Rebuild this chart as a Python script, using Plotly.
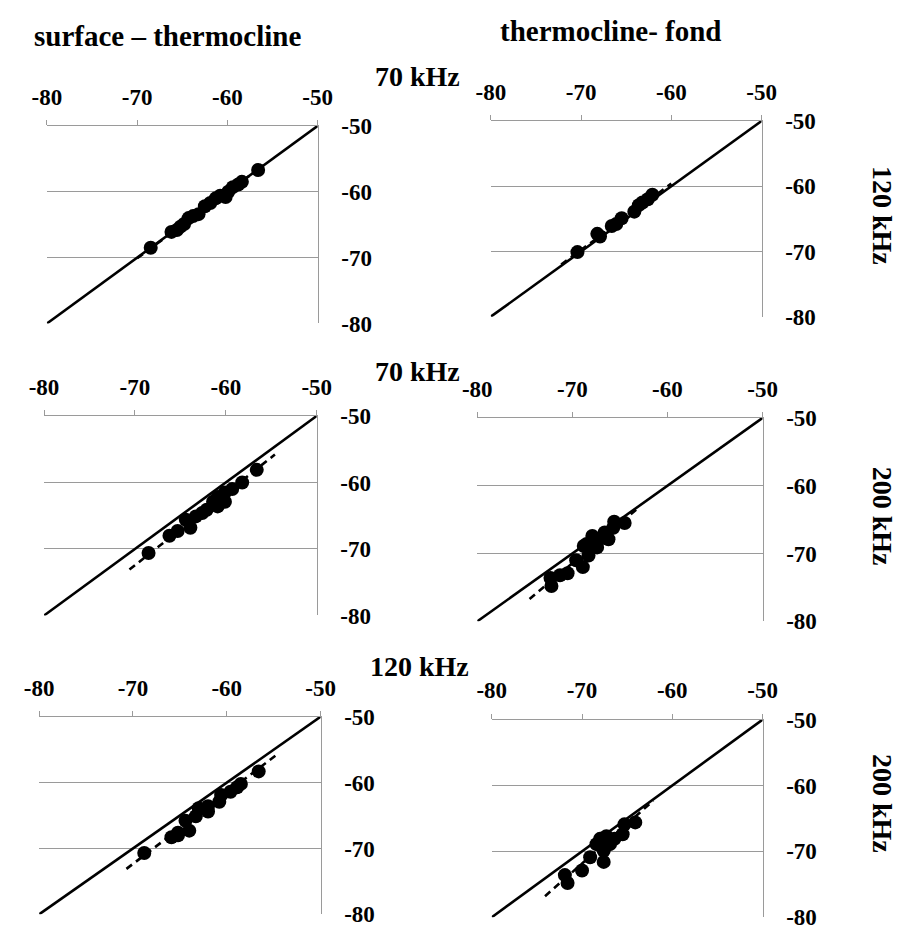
import plotly.graph_objects as go

# ---------------- data ----------------
ticks = [-80, -70, -60, -50]
one_to_one = [-80, -50]

# panel 1: surface-thermocline, 70 kHz vs 120 kHz
p1_x = [-68.5, -66.2, -65.6, -65.2, -64.8, -64.3, -63.8, -63.2, -62.5, -61.9, -61.3, -60.8, -60.2, -59.9, -59.4, -58.8, -58.4, -56.6]
p1_y = [-68.5, -66.1, -65.8, -65.3, -64.9, -64.0, -63.7, -63.4, -62.2, -61.7, -61.0, -60.6, -60.8, -60.0, -59.3, -58.9, -58.5, -56.7]
p1_fit_x = [-70.0, -56.0]
p1_fit_y = [-70.1, -56.0]

# panel 2: thermocline-fond, 70 kHz vs 120 kHz
p2_x = [-70.4, -68.2, -67.9, -66.6, -66.1, -65.5, -64.1, -63.6, -63.2, -62.6, -62.1]
p2_y = [-70.1, -67.3, -67.7, -66.1, -65.8, -64.9, -63.9, -62.9, -62.5, -62.0, -61.3]
p2_fit_x = [-72.2, -60.0]
p2_fit_y = [-72.0, -59.6]

# panel 3: surface-thermocline, 70 kHz vs 200 kHz
p3_x = [-68.5, -66.2, -65.3, -63.9, -64.4, -63.3, -62.6, -62.1, -61.4, -60.9, -60.1, -60.9, -60.1, -59.3, -58.2, -56.6]
p3_y = [-70.6, -68.0, -67.3, -66.8, -65.6, -65.1, -64.6, -64.1, -62.9, -63.6, -62.9, -62.2, -61.5, -61.0, -60.0, -58.1]
p3_fit_x = [-70.6, -54.6]
p3_fit_y = [-73.1, -55.8]

# panel 4: thermocline-fond, 70 kHz vs 200 kHz
p4_x = [-72.3, -72.2, -71.3, -70.5, -69.6, -68.9, -68.8, -68.5, -68.3, -67.9, -67.4, -66.9, -66.6, -66.2, -65.7, -65.6, -64.5]
p4_y = [-73.6, -74.8, -73.2, -72.9, -71.0, -72.0, -68.9, -68.6, -70.3, -67.4, -69.1, -67.7, -66.9, -67.9, -66.2, -65.3, -65.5]
p4_fit_x = [-74.5, -63.0]
p4_fit_y = [-76.7, -63.2]

# panel 5: surface-thermocline, 120 kHz vs 200 kHz
p5_x = [-68.8, -65.9, -65.2, -65.2, -64.0, -64.4, -63.3, -63.0, -62.0, -62.0, -60.8, -60.6, -59.6, -58.9, -58.5, -56.6]
p5_y = [-70.7, -68.3, -67.6, -68.0, -67.3, -65.8, -65.1, -63.9, -64.4, -63.6, -62.9, -61.9, -61.4, -60.7, -60.2, -58.3]
p5_fit_x = [-70.7, -54.7]
p5_fit_y = [-73.1, -55.8]

# panel 6: thermocline-fond, 120 kHz vs 200 kHz
p6_x = [-71.9, -71.6, -70.0, -69.1, -67.6, -68.4, -67.6, -68.0, -67.3, -66.9, -66.4, -65.5, -65.3, -64.1]
p6_y = [-73.6, -74.8, -72.9, -70.9, -71.6, -68.9, -69.9, -68.1, -67.7, -68.9, -68.1, -67.4, -65.9, -65.6]
p6_fit_x = [-74.1, -62.1]
p6_fit_y = [-76.8, -62.3]

panels = [
    (p1_x, p1_y, p1_fit_x, p1_fit_y),
    (p2_x, p2_y, p2_fit_x, p2_fit_y),
    (p3_x, p3_y, p3_fit_x, p3_fit_y),
    (p4_x, p4_y, p4_fit_x, p4_fit_y),
    (p5_x, p5_y, p5_fit_x, p5_fit_y),
    (p6_x, p6_y, p6_fit_x, p6_fit_y),
]

# ---------------- layout ----------------
W, H = 911, 939
# pixel boxes (left, right, top, bottom)
boxes = [
    (33, 313, 117, 320),
    (492, 772, 112, 313),
    (30, 312, 415, 620),
    (478, 773, 417, 626),
    (25, 316, 724, 927),
    (493, 773, 727, 930),
]

FONT = "Liberation Serif, Times New Roman, Times, DejaVu Serif, serif"
GRID = "#9a9a9a"

fig = go.Figure()
layout = dict(
    width=W, height=H,
    margin=dict(l=0, r=0, t=0, b=0),
    paper_bgcolor="white", plot_bgcolor="white",
    showlegend=False,
)

for i, ((px, py, fx, fy), (l, r, t, b)) in enumerate(zip(panels, boxes), start=1):
    xa = "x" if i == 1 else f"x{i}"
    ya = "y" if i == 1 else f"y{i}"
    fig.add_trace(go.Scatter(x=one_to_one, y=one_to_one, mode="lines",
                             line=dict(color="black", width=2.6),
                             xaxis=xa, yaxis=ya, hoverinfo="skip"))
    fig.add_trace(go.Scatter(x=fx, y=fy, mode="lines",
                             line=dict(color="black", width=2.6, dash="7px,5px"),
                             xaxis=xa, yaxis=ya, hoverinfo="skip"))
    fig.add_trace(go.Scatter(x=px, y=py, mode="markers",
                             marker=dict(color="black", size=14),
                             xaxis=xa, yaxis=ya))
    xkey = "xaxis" if i == 1 else f"xaxis{i}"
    ykey = "yaxis" if i == 1 else f"yaxis{i}"
    layout[xkey] = dict(
        domain=[l / W, r / W], anchor=ya, side="top",
        range=[-80, -50], tickvals=ticks, ticktext=[str(v) for v in ticks],
        ticks="outside", ticklen=5, tickcolor=GRID, tickwidth=1,
        showline=True, linecolor=GRID, linewidth=1,
        showgrid=False, zeroline=False,
        tickfont=dict(family=FONT, size=23, color="black", weight="bold"),
        ticklabelstandoff=6,
    )
    layout[ykey] = dict(
        domain=[1 - b / H, 1 - t / H], anchor=xa, side="right",
        range=[-80, -50], tickvals=ticks, ticktext=[str(v) for v in ticks],
        ticks="", showline=True, linecolor=GRID, linewidth=1,
        showgrid=True, gridcolor=GRID, gridwidth=1, zeroline=False,
        tickfont=dict(family=FONT, size=23, color="black", weight="bold"),
        ticklabelstandoff=18,
    )

def ann(text, x, y, angle=0, size=28):
    return dict(text=text, x=x / W, y=1 - y / H, xref="paper", yref="paper",
                showarrow=False, textangle=angle, xanchor="center", yanchor="middle",
                font=dict(family=FONT, size=size, color="black", weight="bold"))

layout["annotations"] = [
    ann("surface \u2013 thermocline", 158, 25, size=29),
    ann("thermocline- fond", 616, 20, size=29),
    ann("70 kHz", 416, 66),
    ann("70 kHz", 416, 369),
    ann("120 kHz", 418, 672),
    ann("120 kHz", 897, 209, angle=90),
    ann("200 kHz", 897, 518, angle=90),
    ann("200 kHz", 897, 813, angle=90),
]

fig.update_layout(**layout)
fig.write_html("out.html")
